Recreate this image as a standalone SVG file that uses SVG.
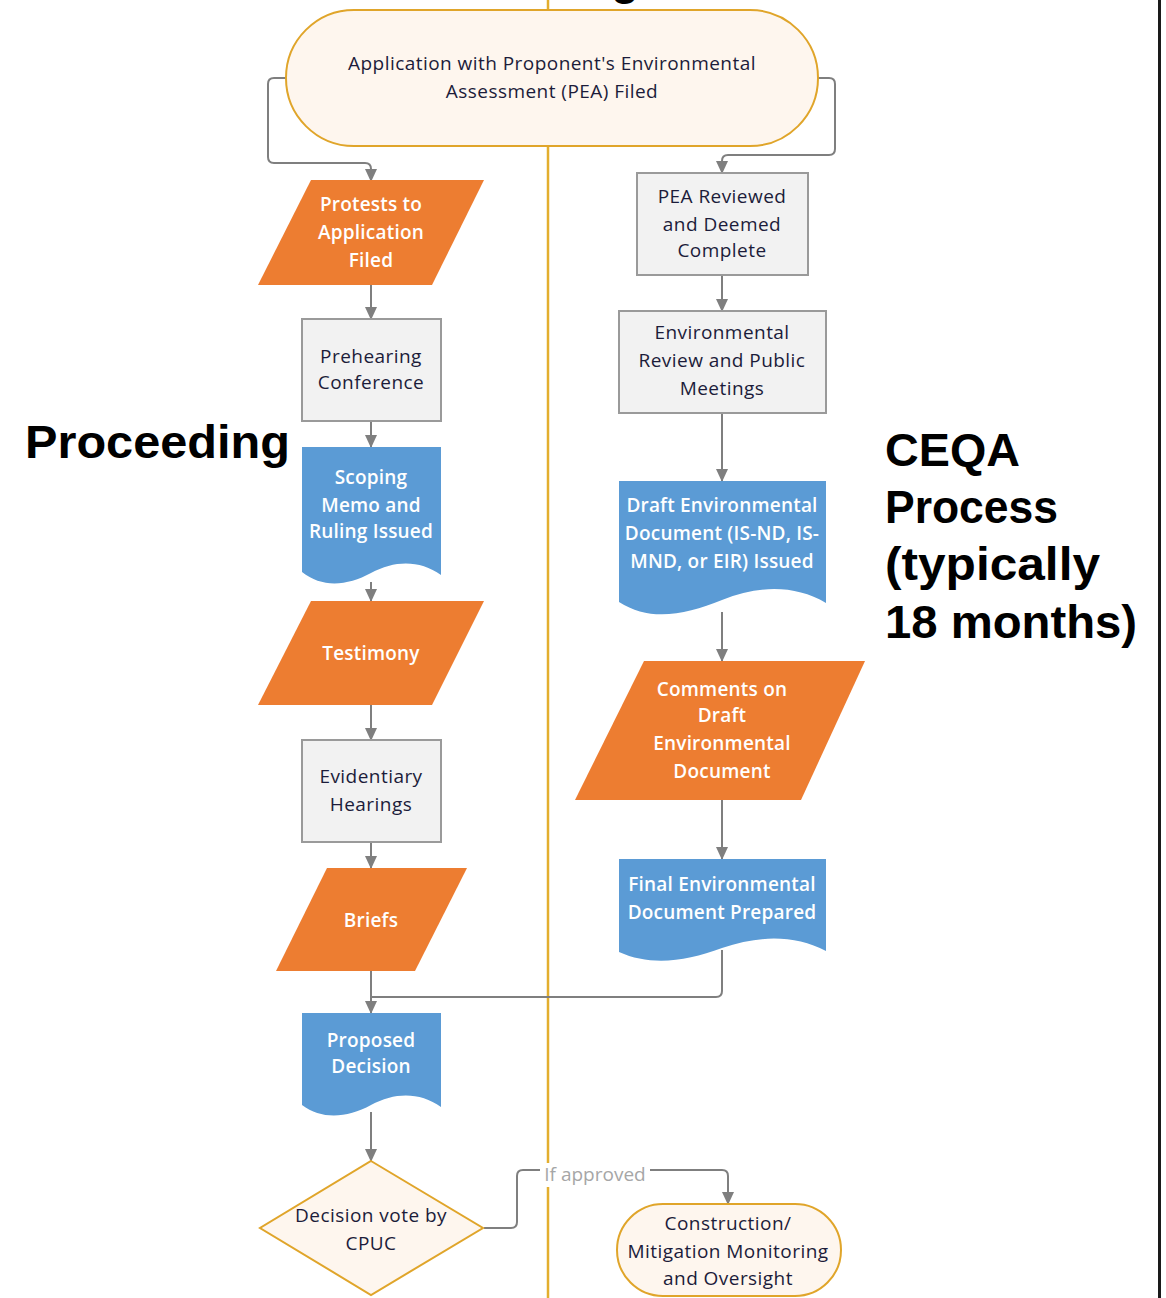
<svg xmlns="http://www.w3.org/2000/svg" width="1166" height="1298" viewBox="0 0 1166 1298">
<defs>
<marker id="arr" markerUnits="userSpaceOnUse" markerWidth="14" markerHeight="14" viewBox="0 0 14 14" refX="12" refY="7" orient="auto">
<path d="M0,1 L13,7 L0,13 Z" fill="#7F7F7F"/>
</marker>
<style>
.t{font-family:"Open Sans","Liberation Sans",sans-serif;font-size:19px;letter-spacing:0.45px;text-anchor:middle;fill:#1c1c3a}
.w{font-family:"Open Sans","Liberation Sans",sans-serif;font-size:19px;letter-spacing:0.2px;font-weight:600;text-anchor:middle;fill:#ffffff}
.big{font-family:"Liberation Sans","DejaVu Sans",sans-serif;font-size:46px;font-weight:bold;fill:#000}
.term{fill:#FEF6EE;stroke:#E0A52A;stroke-width:2}
.box{fill:#F2F2F2;stroke:#9A9A9A;stroke-width:2}
.io{fill:#ED7D31}
.doc{fill:#5B9BD5}
.c{fill:none;stroke:#7F7F7F;stroke-width:2}
.ca{fill:none;stroke:#7F7F7F;stroke-width:2;marker-end:url(#arr)}
</style>
</defs>
<rect x="0" y="0" width="1166" height="1298" fill="#ffffff"/>
<line x1="548" y1="0" x2="548" y2="1298" stroke="#E3AE2E" stroke-width="2.5"/>
<line x1="1159.5" y1="0" x2="1159.5" y2="1298" stroke="#1a1a1a" stroke-width="3"/>
<text class="big" x="611" y="-6">g</text>
<text class="big" x="25" y="458" textLength="265" lengthAdjust="spacingAndGlyphs">Proceeding</text>
<g id="ceqa-label">
<text class="big" x="885" y="466" textLength="135" lengthAdjust="spacingAndGlyphs">CEQA</text>
<text class="big" x="885" y="523" textLength="173" lengthAdjust="spacingAndGlyphs">Process</text>
<text class="big" x="885" y="580" textLength="215" lengthAdjust="spacingAndGlyphs">(typically</text>
<text class="big" x="885" y="638" textLength="252" lengthAdjust="spacingAndGlyphs">18 months)</text>
</g>
<g id="connectors">
<path class="ca" d="M286,78 H274 Q268,78 268,84 V157 Q268,163 274,163 H365 Q371,163 371,169 V181"/>
<path class="ca" d="M818,78 H829 Q835,78 835,84 V149 Q835,155 829,155 H728 Q722,155 722,161 V173"/>
<path class="ca" d="M371,285 V319"/>
<path class="ca" d="M371,421 V447"/>
<path class="ca" d="M371,582 V601"/>
<path class="ca" d="M371,705 V740"/>
<path class="ca" d="M371,842 V868"/>
<path class="ca" d="M371,971 V1013"/>
<path class="c" d="M722,950 V991 Q722,997 716,997 H371"/>
<path class="ca" d="M371,1112 V1161"/>
<path class="ca" d="M484,1228 H511 Q517,1228 517,1222 V1176 Q517,1170 523,1170 H722 Q728,1170 728,1176 V1204"/>
<path class="ca" d="M722,275 V311"/>
<path class="ca" d="M722,413 V481"/>
<path class="ca" d="M722,612 V661"/>
<path class="ca" d="M722,800 V859"/>
<rect x="540" y="1163" width="110" height="24" fill="#ffffff"/>
<text x="595" y="1181" font-family="Open Sans, Liberation Sans, sans-serif" font-size="19" text-anchor="middle" fill="#A6A6A6">If approved</text>
</g>
<g id="pea-filed">
<rect class="term" x="286" y="10" width="532" height="136" rx="68"/>
<text class="t" x="552" y="70">Application with Proponent's Environmental</text>
<text class="t" x="552" y="98">Assessment (PEA) Filed</text>
</g>
<g id="protests">
<polygon class="io" points="311,180 484,180 432,285 258,285"/>
<text class="w" x="371" y="211">Protests to</text>
<text class="w" x="371" y="239">Application</text>
<text class="w" x="371" y="267">Filed</text>
</g>
<g id="prehearing">
<rect class="box" x="302" y="319" width="139" height="102"/>
<text class="t" x="371" y="363">Prehearing</text>
<text class="t" x="371" y="389">Conference</text>
</g>
<g id="scoping">
<path class="doc" d="M302,447 H441 V575 C420,560 395,560 371,573 C347,586 322,588 302,572 Z"/>
<text class="w" x="371" y="484">Scoping</text>
<text class="w" x="371" y="512">Memo and</text>
<text class="w" x="371" y="538">Ruling Issued</text>
</g>
<g id="testimony">
<polygon class="io" points="311,601 484,601 432,705 258,705"/>
<text class="w" x="371" y="660">Testimony</text>
</g>
<g id="evidentiary">
<rect class="box" x="302" y="740" width="139" height="102"/>
<text class="t" x="371" y="783">Evidentiary</text>
<text class="t" x="371" y="811">Hearings</text>
</g>
<g id="briefs">
<polygon class="io" points="327,868 467,868 415,971 276,971"/>
<text class="w" x="371" y="927">Briefs</text>
</g>
<g id="proposed">
<path class="doc" d="M302,1013 H441 V1107 C420,1092 395,1092 371,1105 C347,1118 322,1120 302,1105 Z"/>
<text class="w" x="371" y="1047">Proposed</text>
<text class="w" x="371" y="1073">Decision</text>
</g>
<g id="decision-vote">
<polygon class="term" points="371,1161 483,1228 371,1295 260,1228"/>
<text class="t" x="371" y="1222">Decision vote by</text>
<text class="t" x="371" y="1250">CPUC</text>
</g>
<g id="construction">
<rect class="term" x="617" y="1204" width="224" height="92" rx="46"/>
<text class="t" x="728" y="1230">Construction/</text>
<text class="t" x="728" y="1258">Mitigation Monitoring</text>
<text class="t" x="728" y="1285">and Oversight</text>
</g>
<g id="pea-reviewed">
<rect class="box" x="637" y="173" width="171" height="102"/>
<text class="t" x="722" y="203">PEA Reviewed</text>
<text class="t" x="722" y="231">and Deemed</text>
<text class="t" x="722" y="257">Complete</text>
</g>
<g id="env-review">
<rect class="box" x="619" y="311" width="207" height="102"/>
<text class="t" x="722" y="339">Environmental</text>
<text class="t" x="722" y="367">Review and Public</text>
<text class="t" x="722" y="395">Meetings</text>
</g>
<g id="draft-doc">
<path class="doc" d="M619,481 H826 V603 C795,585 760,585 722,600 C685,615 650,622 619,602 Z"/>
<text class="w" x="722" y="512">Draft Environmental</text>
<text class="w" x="722" y="540">Document (IS-ND, IS-</text>
<text class="w" x="722" y="568">MND, or EIR) Issued</text>
</g>
<g id="comments">
<polygon class="io" points="644,661 865,661 801,800 575,800"/>
<text class="w" x="722" y="696">Comments on</text>
<text class="w" x="722" y="722">Draft</text>
<text class="w" x="722" y="750">Environmental</text>
<text class="w" x="722" y="778">Document</text>
</g>
<g id="final-doc">
<path class="doc" d="M619,859 H826 V951 C795,935 760,935 722,948 C685,962 650,966 619,952 Z"/>
<text class="w" x="722" y="891">Final Environmental</text>
<text class="w" x="722" y="919">Document Prepared</text>
</g>
</svg>
